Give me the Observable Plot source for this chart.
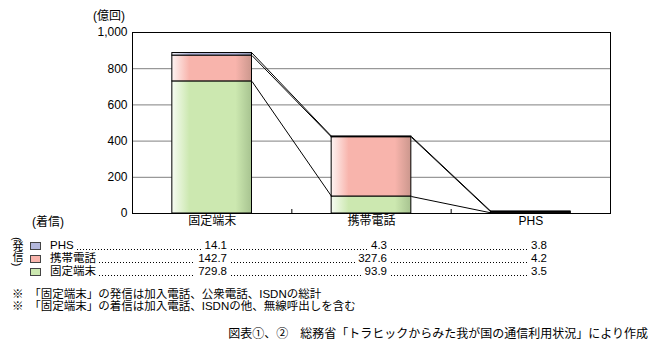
<!DOCTYPE html>
<html lang="ja"><head><meta charset="utf-8">
<script src="https://cdn.jsdelivr.net/npm/d3@7"></script>
<script src="https://cdn.jsdelivr.net/npm/@observablehq/plot@0.6"></script>
<style>
html,body{margin:0;padding:0;background:#fff;}
#wrap{position:relative;width:659px;height:355px;font-family:"Liberation Sans","Noto Sans CJK JP",sans-serif;color:#000;overflow:hidden;}
.abs{position:absolute;white-space:nowrap;font-size:12px;line-height:13px;}
.row{position:absolute;left:0;height:13px;width:659px;font-size:11.5px;line-height:13px;}
.cell{position:absolute;top:0;height:13px;display:flex;align-items:flex-end;}
.lead{flex:1;height:13px;margin:0 3px;background-image:linear-gradient(to right,#000 1px,transparent 1px);background-size:3px 1px;background-repeat:repeat-x;background-position:0 10px;}
.sw{position:absolute;top:3px;left:30px;width:9px;height:6px;border:1px solid #444;}
</style></head>
<body><div id="wrap"></div>
<script>
const categories = ["固定端末", "携帯電話", "PHS"];
const seriesNames = ["固定端末", "携帯電話", "PHS"]; // bottom to top
const fixedValues = [729.8, 93.9, 3.5];
const mobileValues = [142.7, 327.6, 4.2];
const phsValues = [14.1, 4.3, 3.8];
const yTicks = [0, 200, 400, 600, 800, 1000];
const gridTicks = [200, 400, 600, 800];
const seriesColors = ["#cce8b0", "#f8b4ac", "#b4b8dc"];
const gradIds = ["g-fixed", "g-mobile", "g-phs"];

const seriesValues = [fixedValues, mobileValues, phsValues];

// stacked rectangles
const rects = [];
const tops = categories.map(() => []);
categories.forEach((c, i) => {
  let cum = 0;
  seriesValues.forEach((vals, s) => {
    rects.push({i, s, y1: cum, y2: cum + vals[i]});
    cum += vals[i];
    tops[i].push(cum);
  });
});
// series lines
const links = [];
for (let k = 0; k < seriesNames.length; k++) {
  for (let i = 0; i < categories.length - 1; i++) {
    links.push({x1: i + 0.25, y1: tops[i][k], x2: i + 0.75, y2: tops[i + 1][k]});
  }
}

const wrap = document.getElementById("wrap");
const H = 232, MT = 32, MB = 19;
const chart = Plot.plot({
  width: 659, height: H,
  marginLeft: 132, marginRight: 49, marginTop: MT, marginBottom: MB,
  style: {fontFamily: '"Liberation Sans","Noto Sans CJK JP",sans-serif', fontSize: "12px", color: "#000", background: "#fff"},
  x: {domain: [-0.5, categories.length - 0.5], axis: null},
  y: {domain: [0, 1000], axis: null},
  marks: [
    Plot.ruleY(gridTicks, {stroke: "#808080", strokeWidth: 1}),
    ...seriesNames.map((n, s) => Plot.rectY(rects.filter(d => d.s === s), {
      x1: d => d.i - 0.25, x2: d => d.i + 0.25, y1: "y1", y2: "y2",
      fill: `url(#${gradIds[s]})`, stroke: "#000", strokeWidth: 1
    })),
    Plot.link(links, {x1: "x1", y1: "y1", x2: "x2", y2: "y2", stroke: "#000", strokeWidth: 1}),
    Plot.frame({stroke: "#000", strokeWidth: 1}),
    Plot.ruleX(categories.slice(1).map((c, i) => i + 0.5), {stroke: "#000", insetTop: H - MT - MB - 4}),
    Plot.axisY({ticks: yTicks, tickFormat: d3.format(","), tickSize: 0, tickPadding: 5, fontSize: 12, label: null}),
    Plot.axisX({ticks: categories.map((c, i) => i), tickFormat: i => categories[i], tickSize: 0, tickPadding: 3, fontSize: 12, label: null})
  ]
});
// gradients
const ns = "http://www.w3.org/2000/svg";
const defs = document.createElementNS(ns, "defs");
seriesColors.forEach((col, s) => {
  const g = document.createElementNS(ns, "linearGradient");
  g.setAttribute("id", gradIds[s]);
  g.setAttribute("x1", "0"); g.setAttribute("x2", "1"); g.setAttribute("y1", "0"); g.setAttribute("y2", "0");
  const c = d3.color(col);
  const light = d3.interpolateRgb(col, "#fff")(0.85);
  const dark = d3.rgb(c.r * 0.82, c.g * 0.84, c.b * 0.82).formatHex();
  [[0, light], [0.22, col], [0.8, col], [1, dark]].forEach(([o, cc]) => {
    const st = document.createElementNS(ns, "stop");
    st.setAttribute("offset", o);
    st.setAttribute("stop-color", cc);
    g.appendChild(st);
  });
  defs.appendChild(g);
});
chart.insertBefore(defs, chart.firstChild);
chart.style.position = "absolute";
chart.style.left = "0px";
chart.style.top = "0px";
wrap.appendChild(chart);

function addText(txt, css) {
  const d = document.createElement("div");
  d.className = "abs";
  d.textContent = txt;
  Object.assign(d.style, css);
  wrap.appendChild(d);
  return d;
}
addText("(億回)", {left: "93px", top: "10px"});
addText("(着信)", {left: "32px", top: "216px"});
addText("(発信)", {left: "11px", top: "237px", writingMode: "vertical-rl", fontSize: "11px", lineHeight: "12px"});

// legend table (top row is PHS)
const colEnds = [227, 387, 547];
const rowTops = [239, 252, 265];
[2, 1, 0].forEach((s, r) => {
  const row = document.createElement("div");
  row.className = "row";
  row.style.top = rowTops[r] + "px";
  const sw = document.createElement("div");
  sw.className = "sw";
  sw.style.background = seriesColors[s];
  row.appendChild(sw);
  colEnds.forEach((end, k) => {
    const start = k === 0 ? 50 : colEnds[k - 1] + 1;
    const cell = document.createElement("div");
    cell.className = "cell";
    cell.style.left = start + "px";
    cell.style.width = (end - start) + "px";
    if (k === 0) {
      const lab = document.createElement("span");
      lab.textContent = seriesNames[s];
      cell.appendChild(lab);
    }
    const lead = document.createElement("span");
    lead.className = "lead";
    cell.appendChild(lead);
    const val = document.createElement("span");
    val.textContent = seriesValues[s][k].toFixed(1);
    cell.appendChild(val);
    row.appendChild(cell);
  });
  wrap.appendChild(row);
});

addText("※　「固定端末」の発信は加入電話、公衆電話、ISDNの総計", {left: "12px", top: "288px", fontSize: "11.5px", lineHeight: "12px"});
addText("※　「固定端末」の着信は加入電話、ISDNの他、無線呼出しを含む", {left: "12px", top: "300px", fontSize: "11.5px", lineHeight: "12px"});
addText("図表①、②　総務省「トラヒックからみた我が国の通信利用状況」により作成", {right: "11px", top: "328px"});
</script></body></html>
